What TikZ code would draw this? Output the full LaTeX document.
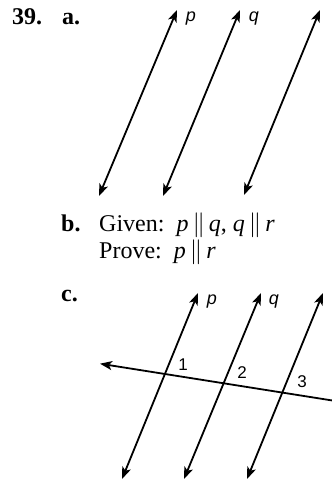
\documentclass[tikz,border=0pt]{standalone}
\usepackage{fontspec}
\setmainfont{Liberation Serif}
\setsansfont{Liberation Sans}
\usetikzlibrary{arrows.meta}
\begin{document}
\begin{tikzpicture}[x=1pt,y=-1pt,
  txt/.style={inner sep=0pt,anchor=base west,font=\fontsize{24}{28}\selectfont},
  lbl/.style={inner sep=0pt,font=\sffamily\fontsize{18}{20}\selectfont},
  num/.style={inner sep=0pt,font=\sffamily\fontsize{17}{19}\selectfont},
  lineab/.style={line width=1.8pt,{Stealth[length=12pt,width=9pt,inset=3pt]}-{Stealth[length=12pt,width=9pt,inset=3pt]}},
  trans/.style={line width=1.8pt,{Stealth[length=12pt,width=9pt,inset=3pt]}-}]
\clip (0,0) rectangle (332,480);
% part a
\node[txt] (n39) at (12,24) {\textbf{39.}};
\node[txt] (na) at (62,24) {\textbf{a.}};
\coordinate (pa1) at (177,10); \coordinate (pa2) at (99,196);
\coordinate (qa1) at (240,10); \coordinate (qa2) at (163,196);
\coordinate (ra1) at (320,10); \coordinate (ra2) at (244,195);
\draw[lineab] (pa2) -- (pa1);
\draw[lineab] (qa2) -- (qa1);
\draw[lineab] (ra2) -- (ra1);
\node[lbl] (lpa) at (191,19) {\itshape p};
\node[lbl] (lqa) at (254,19) {\itshape q};
\node[lbl] (lra) at (336,19) {\itshape r};
% part b
\node[txt] (nb) at (61,231) {\textbf{b.}};
\node[txt] (given) at (99,231) {Given:\ \ \textit{p}\,$\|$\,\textit{q}, \textit{q}\,$\|$\,\textit{r}};
\node[txt] (prove) at (99,258) {Prove:\ \ \textit{p}\,$\|$\,\textit{r}};
% part c
\node[txt] (nc) at (61,301) {\textbf{c.}};
\coordinate (pc1) at (198,293); \coordinate (pc2) at (122,479);
\coordinate (qc1) at (261,293); \coordinate (qc2) at (184,479);
\coordinate (rc1) at (323,293); \coordinate (rc2) at (247,479);
\draw[lineab] (pc2) -- (pc1);
\draw[lineab] (qc2) -- (qc1);
\draw[lineab] (rc2) -- (rc1);
\coordinate (tl) at (100,363.7);
\coordinate (tr) at (345,402.5);
\draw[trans] (tl) -- (tr);
\node[lbl] (lpc) at (212,302) {\itshape p};
\node[lbl] (lqc) at (274,302) {\itshape q};
\node[num] (l1) at (183,365) {1};
\node[num] (l2) at (242,373) {2};
\node[num] (l3) at (302,382) {3};
\end{tikzpicture}
\end{document}
